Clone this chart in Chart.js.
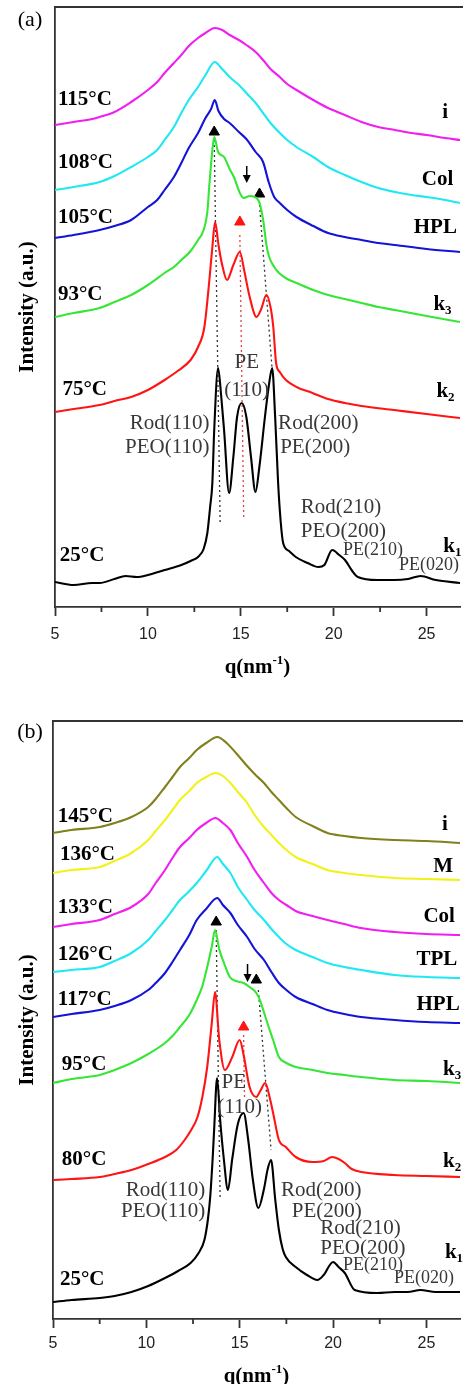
<!DOCTYPE html>
<html>
<head>
<meta charset="utf-8">
<script src="https://cdn.jsdelivr.net/npm/chart.js@4.4.0/dist/chart.umd.min.js"></script>
<style>
  body { margin: 0; background: #fff; width: 467px; height: 1384px; overflow: hidden; position: relative; }
  canvas { position: absolute; left: 0; }
  #chartA { top: 0; }
  #chartB { top: 690px; }
</style>
</head>
<body>
<canvas id="chartA" width="467" height="690"></canvas>
<canvas id="chartB" width="467" height="694"></canvas>
<script>
// q (nm^-1) tick values
const qMajor = [5, 10, 15, 20, 25];
const qMinor = [7.5, 12.5, 17.5, 22.5];

// ---- panel (a) curves: [q, intensity (a.u., already offset)] ----
const a115 = [[5.0,482],[6.0,485],[7.0,488],[7.4,490],[8.2,495],[9.1,505],[10.0,517],[10.5,525],[10.9,534],[11.4,544],[11.8,552],[12.2,561],[12.7,569],[13.1,574],[13.6,579],[14.0,577],[14.4,572],[14.9,567],[15.3,562],[15.8,555],[16.2,547],[16.6,538],[17.1,530],[17.5,523],[18.0,517],[18.9,507],[19.7,499],[20.6,492],[21.5,485],[22.4,480],[23.3,477],[24.2,474],[25.0,472],[26.0,469],[26.8,467]];
const a108 = [[5.0,417],[6.0,420],[7.4,425],[8.2,431],[9.1,440],[10.0,450],[10.5,457],[10.9,467],[11.4,480],[11.8,494],[12.2,507],[12.7,520],[13.1,532],[13.6,545],[14.0,538],[14.4,530],[14.9,522],[15.3,514],[15.8,504],[16.2,494],[16.6,484],[17.1,474],[17.5,467],[18.0,460],[18.9,450],[19.7,440],[20.6,432],[21.5,425],[22.4,419],[23.3,415],[24.2,412],[25.0,410],[26.0,407],[26.8,404]];
const a105 = [[5.0,369],[6.0,372],[7.4,377],[8.2,381],[9.1,387],[10.0,400],[10.5,407],[10.9,417],[11.4,430],[11.8,444],[12.2,459],[12.7,474],[13.1,489],[13.4,498],[13.6,507],[13.8,496],[14.1,488],[14.4,484],[14.9,475],[15.3,468],[15.8,455],[16.2,445],[16.5,425],[16.8,410],[17.1,404],[17.5,397],[18.0,390],[18.9,381],[19.7,374],[20.6,370],[21.5,367],[22.4,364],[23.3,362],[25.0,358],[26.8,355]];
const a93 = [[5.0,290],[6.0,294],[7.4,299],[8.2,305],[9.1,312],[10.0,322],[10.9,334],[11.4,340],[11.8,347],[12.3,356],[12.7,367],[13.0,377],[13.2,395],[13.3,420],[13.47,457],[13.57,470],[13.78,455],[14.1,450],[14.4,438],[14.63,430],[14.95,414],[15.16,409],[15.48,411],[15.85,409],[16.01,404],[16.22,385],[16.38,362],[16.53,350],[16.8,340],[17.06,334],[17.5,328],[18.0,324],[18.9,317],[19.7,312],[20.6,308],[21.5,304],[22.4,300],[23.3,297],[25.0,291],[26.8,285]];
const a75 = [[5.0,195],[6.0,198],[7.4,202],[8.2,206],[9.1,210],[10.0,217],[10.9,227],[11.6,236],[12.3,247],[12.7,260],[13.04,280],[13.31,327],[13.47,360],[13.62,385],[13.8,362],[14.0,342],[14.26,327],[14.6,342],[14.95,355],[15.2,335],[15.48,310],[15.85,290],[16.1,298],[16.38,312],[16.6,300],[16.75,280],[16.9,244],[17.1,235],[17.43,227],[18.0,220],[18.86,214],[19.7,208],[20.6,204],[21.5,201],[23.25,197],[25.0,193],[26.8,189]];
const a25 = [[5.0,25],[6.0,22],[7.0,24],[7.4,24],[8.2,28],[8.8,31],[9.4,30],[10.0,32],[10.9,37],[11.8,42],[12.3,46],[12.7,50],[13.0,58],[13.2,74],[13.35,100],[13.47,124],[13.57,177],[13.78,239],[13.95,210],[14.1,177],[14.37,114],[14.6,150],[14.8,190],[15.05,204],[15.3,190],[15.55,150],[15.79,115],[16.0,140],[16.3,190],[16.5,220],[16.69,239],[16.85,190],[17.01,124],[17.15,85],[17.28,64],[17.6,56],[17.96,50],[18.6,44],[19.18,40],[19.5,42],[19.92,57],[20.3,52],[20.61,47],[21.0,36],[21.3,30],[22.35,27],[23.25,27],[24.0,28],[24.68,31],[25.5,27],[26.8,24]];

// ---- panel (b) curves ----
const b145 = [[5.0,486],[6.0,489],[7.5,492],[8.3,496],[9.2,502],[10.1,512],[10.5,520],[11.0,532],[11.4,542],[11.8,552],[12.3,561],[12.7,569],[13.2,576],[13.8,582],[14.3,576],[14.8,566],[15.4,553],[15.8,545],[16.3,536],[16.7,527],[17.1,519],[17.5,511],[18.0,502],[18.9,493],[19.7,486],[20.6,483],[21.5,481],[23.3,479],[25.0,478],[26.8,476]];
const b136 = [[5.0,446],[6.0,449],[7.5,452],[8.3,458],[9.2,466],[10.1,479],[10.5,488],[11.0,499],[11.4,509],[11.8,519],[12.3,528],[12.7,536],[13.2,542],[13.7,546],[14.1,543],[14.5,536],[14.9,527],[15.4,516],[15.8,504],[16.3,492],[16.7,484],[17.1,476],[17.5,469],[18.0,462],[18.9,455],[19.7,449],[20.6,446],[21.5,444],[23.3,441],[25.0,440],[26.8,439]];
const b133 = [[5.0,392],[6.0,395],[7.5,399],[8.3,405],[9.2,412],[10.1,425],[10.5,436],[11.0,449],[11.4,461],[11.8,472],[12.3,481],[12.7,489],[13.2,496],[13.7,501],[14.1,496],[14.5,489],[14.9,476],[15.4,462],[15.8,449],[16.3,436],[16.7,426],[17.1,419],[17.5,414],[18.0,408],[18.9,403],[19.7,399],[20.6,395],[21.5,391],[23.3,387],[25.0,385],[26.8,384]];
const b126 = [[5.0,347],[6.0,349],[7.5,352],[8.3,358],[9.2,366],[10.1,379],[10.5,388],[11.0,399],[11.4,409],[11.8,419],[12.2,426],[12.7,436],[13.2,448],[13.8,462],[14.1,455],[14.5,446],[14.9,432],[15.4,419],[15.8,409],[16.3,399],[16.7,390],[17.1,382],[17.5,375],[18.0,369],[18.9,362],[19.7,356],[20.6,352],[21.5,349],[23.3,344],[25.0,342],[26.8,341]];
const b117 = [[5.0,302],[6.0,305],[7.5,309],[8.3,313],[9.2,319],[10.1,329],[10.5,336],[11.0,346],[11.4,357],[11.8,369],[12.3,384],[12.7,399],[13.2,410],[13.8,421],[14.1,414],[14.5,406],[14.9,394],[15.4,382],[15.8,370],[16.3,359],[16.7,347],[17.1,336],[17.5,329],[18.0,322],[18.9,315],[19.7,309],[20.6,305],[21.5,302],[23.3,299],[25.0,297],[26.8,296]];
const b95 = [[5.0,236],[6.0,240],[7.5,244],[8.3,249],[9.2,256],[10.1,265],[11.0,276],[11.4,283],[11.8,292],[12.3,304],[12.7,319],[13.0,333],[13.26,352],[13.5,372],[13.68,389],[13.9,370],[14.16,356],[14.47,342],[14.8,338],[15.21,336],[15.53,332],[15.89,326],[16.1,318],[16.26,309],[16.5,295],[16.79,279],[17.1,262],[17.5,256],[18.0,252],[18.9,249],[19.7,246],[20.6,244],[21.5,242],[23.3,239],[25.0,238],[26.8,236]];
const b80 = [[5.0,139],[6.0,140],[7.5,142],[8.3,145],[9.2,149],[10.1,155],[11.0,162],[11.6,169],[12.05,179],[12.4,189],[12.74,202],[13.0,222],[13.26,252],[13.5,295],[13.68,327],[13.9,280],[14.21,249],[14.6,262],[15.0,279],[15.2,265],[15.53,232],[15.89,222],[16.1,228],[16.37,236],[16.6,222],[16.79,206],[17.1,179],[17.47,172],[18.0,162],[18.89,157],[19.5,158],[19.95,162],[20.3,160],[20.63,156],[21.0,150],[21.53,147],[23.26,144],[25.0,143],[26.8,142]];
const b25 = [[5.0,17],[6.0,19],[7.5,21],[8.3,23],[9.2,27],[10.1,33],[11.0,41],[11.7,48],[12.37,56],[12.8,66],[13.11,79],[13.3,100],[13.42,122],[13.55,160],[13.63,189],[13.79,241],[13.95,200],[14.15,160],[14.37,129],[14.6,160],[14.9,195],[15.21,206],[15.45,180],[15.7,140],[16.0,111],[16.3,130],[16.5,150],[16.68,159],[16.9,120],[17.1,89],[17.3,70],[17.47,62],[18.0,52],[18.6,44],[19.16,39],[19.5,44],[20.0,57],[20.3,52],[20.63,46],[21.16,29],[22.37,26],[23.3,27],[24.0,27],[24.68,29],[25.5,27],[26.8,27]];

// peak markers [q, intensity]
const triBlackA = [[13.57,475],[16.01,413]];
const triRedA = [[14.95,385]];
const triBlackB = [[13.74,397],[15.89,339]];
const triRedB = [[15.21,292]];
// down arrows [q, tail, tip]
const arrowA = [15.32, 441, 424];
const arrowB = [15.42, 355, 337];
// guide lines (dotted)
const guideBlackA = [[[13.57,467],[13.89,82]], [[16.01,402],[16.69,237]]];
const guideRedA = [[[14.95,372],[15.16,87]]];
const guideBlackB = [[[13.74,389],[13.95,122]], [[16.0,329],[16.68,169]]];
const guideRedB = [[[15.21,284],[15.26,219]]];

// labels: [text, q, intensity]
const tempA = [['115°C',5.16,507],['108°C',5.16,444],['105°C',5.16,389],['93°C',5.16,312],['75°C',5.4,217],['25°C',5.26,51]];
const phaseA = [['i',25.85,494],['Col',24.74,427],['HPL',24.31,379],['k|3',25.37,302],['k|2',25.53,215],['k|1',25.9,60]];
const peakA = [['PE',15.32,245,'center',21],['(110)',15.32,217,'center',21],['Rod(110)',13.31,184,'right',21],['PEO(110)',13.31,160,'right',21],
  ['Rod(200)',17.01,184,'left',21],['PE(200)',17.12,160,'left',21],['Rod(210)',18.23,100,'left',21],['PEO(200)',18.23,76,'left',21],
  ['PE(210)',20.5,57,'left',18],['PE(020)',23.52,42,'left',18]];
const tempB = [['145°C',5.26,502],['136°C',5.37,464],['133°C',5.26,411],['126°C',5.26,364],['117°C',5.26,319],['95°C',5.47,254],['80°C',5.47,159],['25°C',5.37,39]];
const phaseB = [['i',25.84,494],['M',25.37,452],['Col',24.84,402],['TPL',24.47,359],['HPL',24.47,314],['k|3',25.89,249],['k|2',25.89,157],['k|1',25.99,66]];
const peakB = [['PE',14.68,237,'center',21],['(110)',15.0,212,'center',21],['Rod(110)',13.16,129,'right',21],['PEO(110)',13.16,108,'right',21],
  ['Rod(200)',17.21,129,'left',21],['PE(200)',17.79,108,'left',21],['Rod(210)',19.32,91,'left',21],['PEO(200)',19.32,71,'left',21],
  ['PE(210)',20.53,54,'left',18],['PE(020)',23.26,41,'left',18]];

const SERIF = '"Liberation Serif", "Times New Roman", serif';
const bold = s => 'bold ' + s + 'px ' + SERIF;
const reg = s => s + 'px ' + SERIF;

function rich(ctx, parts, px, py, align) {
  let w = 0;
  parts.forEach(p => { ctx.font = p[1]; w += ctx.measureText(p[0]).width; });
  let cx = align === 'center' ? px - w / 2 : align === 'right' ? px - w : px;
  ctx.textAlign = 'left';
  ctx.textBaseline = 'middle';
  parts.forEach(p => {
    ctx.font = p[1];
    ctx.fillText(p[0], cx, py + (p[2] || 0));
    cx += ctx.measureText(p[0]).width;
  });
}

const overlay = {
  id: 'overlay',
  afterDatasetsDraw(chart, args, o) {
    const { ctx, chartArea: ca, scales: { x, y } } = chart;
    ctx.save();
    // top frame + minor ticks
    ctx.strokeStyle = '#333';
    ctx.lineWidth = 1.8;
    ctx.beginPath();
    ctx.moveTo(ca.left, ca.top);
    ctx.lineTo(ca.right + 3, ca.top);
    qMinor.forEach(v => {
      const px = x.getPixelForValue(v);
      ctx.moveTo(px, ca.bottom);
      ctx.lineTo(px, ca.bottom + 5);
    });
    ctx.stroke();

    // down arrow
    const ax = x.getPixelForValue(o.arrow[0]);
    const ay0 = y.getPixelForValue(o.arrow[1]);
    const ay1 = y.getPixelForValue(o.arrow[2]);
    ctx.strokeStyle = '#000';
    ctx.lineWidth = 1.5;
    ctx.beginPath();
    ctx.moveTo(ax, ay0);
    ctx.lineTo(ax, ay1 - 6);
    ctx.stroke();
    ctx.fillStyle = '#000';
    ctx.beginPath();
    ctx.moveTo(ax - 4, ay1 - 8);
    ctx.lineTo(ax + 4, ay1 - 8);
    ctx.lineTo(ax, ay1);
    ctx.closePath();
    ctx.fill();

    // temperature + phase labels
    ctx.fillStyle = '#000';
    o.temps.forEach(t => rich(ctx, [[t[0], bold(21)]], x.getPixelForValue(t[1]), y.getPixelForValue(t[2]), 'left'));
    o.phases.forEach(t => {
      const s = t[0].split('|');
      const parts = [[s[0], bold(21)]];
      if (s[1]) parts.push([s[1], bold(13), 6]);
      rich(ctx, parts, x.getPixelForValue(t[1]), y.getPixelForValue(t[2]), 'left');
    });
    // reflection labels
    ctx.fillStyle = '#383838';
    o.peaks.forEach(t => rich(ctx, [[t[0], reg(t[4])]], x.getPixelForValue(t[1]), y.getPixelForValue(t[2]), t[3]));

    // x title with superscript
    ctx.fillStyle = '#000';
    rich(ctx, [['q(nm', bold(21)], ['-1', bold(13), -7], [')', bold(21)]], (ca.left + ca.right) / 2, ca.bottom + o.titleGap, 'center');
    // panel letter
    rich(ctx, [[o.letter, reg(22)]], 30, o.letterY, 'center');
    ctx.restore();
  }
};

function curve(pts, color) {
  return { data: pts.map(p => ({ x: p[0], y: p[1] })), borderColor: color, borderWidth: 2.1,
    pointRadius: 0, cubicInterpolationMode: 'monotone', fill: false };
}
function guide(seg, color) {
  return { data: seg.map(p => ({ x: p[0], y: p[1] })), borderColor: color, borderWidth: 1.3,
    borderDash: [2, 3], pointRadius: 0, fill: false };
}
function marks(pts, color) {
  return { type: 'scatter', data: pts.map(p => ({ x: p[0], y: p[1] })), pointStyle: 'triangle',
    pointRadius: 6, backgroundColor: color, borderColor: color, showLine: false };
}

function build(id, sets, cfg) {
  return new Chart(document.getElementById(id), {
    type: 'line',
    data: { datasets: sets },
    options: {
      responsive: false,
      animation: false,
      layout: { padding: { top: cfg.top, right: 0, left: 0, bottom: 0 } },
      plugins: { legend: { display: false }, tooltip: { enabled: false }, overlay: cfg.overlay },
      scales: {
        x: {
          type: 'linear', min: 5, max: 26.8,
          afterBuildTicks: s => { s.ticks = qMajor.map(v => ({ value: v })); },
          ticks: { autoSkip: false, maxRotation: 0, color: '#222', padding: cfg.tickPad,
            font: { family: '"Liberation Sans", Arial, sans-serif', size: 16 } },
          grid: { drawOnChartArea: false, drawTicks: true, tickLength: 9, tickWidth: 1.8, tickColor: '#333' },
          border: { display: true, color: '#333', width: 1.8 },
          afterFit: s => { s.height = cfg.xh; }
        },
        y: {
          min: 0, max: cfg.ymax,
          ticks: { display: false },
          grid: { display: false },
          border: { display: true, color: '#333', width: 1.8 },
          title: { display: true, text: 'Intensity (a.u.)', color: '#000',
            font: { family: SERIF, size: 21, weight: 'bold' }, padding: { top: 15, bottom: 0 } },
          afterFit: s => { s.width = cfg.yw; }
        }
      }
    },
    plugins: [overlay]
  });
}

build('chartA', [
  curve(a115, '#f01ef0'), curve(a108, '#1ee8f2'), curve(a105, '#1414d8'),
  curve(a93, '#36e636'), curve(a75, '#ff1414'), curve(a25, '#000000'),
  ...guideBlackA.map(s => guide(s, '#333')), ...guideRedA.map(s => guide(s, '#e84040')),
  marks(triBlackA, '#000'), marks(triRedA, '#ff1414')
], { top: 7, xh: 83, yw: 55, ymax: 600, tickPad: 9,
  overlay: { arrow: arrowA, temps: tempA, phases: phaseA, peaks: peakA, titleGap: 61, letter: '(a)', letterY: 20 } });

build('chartB', [
  curve(b145, '#80801c'), curve(b136, '#f2f21a'), curve(b133, '#f01ef0'), curve(b126, '#1ee8f2'),
  curve(b117, '#1414d8'), curve(b95, '#36e636'), curve(b80, '#ff1414'), curve(b25, '#000000'),
  ...guideBlackB.map(s => guide(s, '#333')), ...guideRedB.map(s => guide(s, '#e84040')),
  marks(triBlackB, '#000'), marks(triRedB, '#ff1414')
], { top: 31, xh: 65, yw: 53, ymax: 598, tickPad: 6,
  overlay: { arrow: arrowB, temps: tempB, phases: phaseB, peaks: peakB, titleGap: 58, letter: '(b)', letterY: 42 } });
</script>
</body>
</html>
